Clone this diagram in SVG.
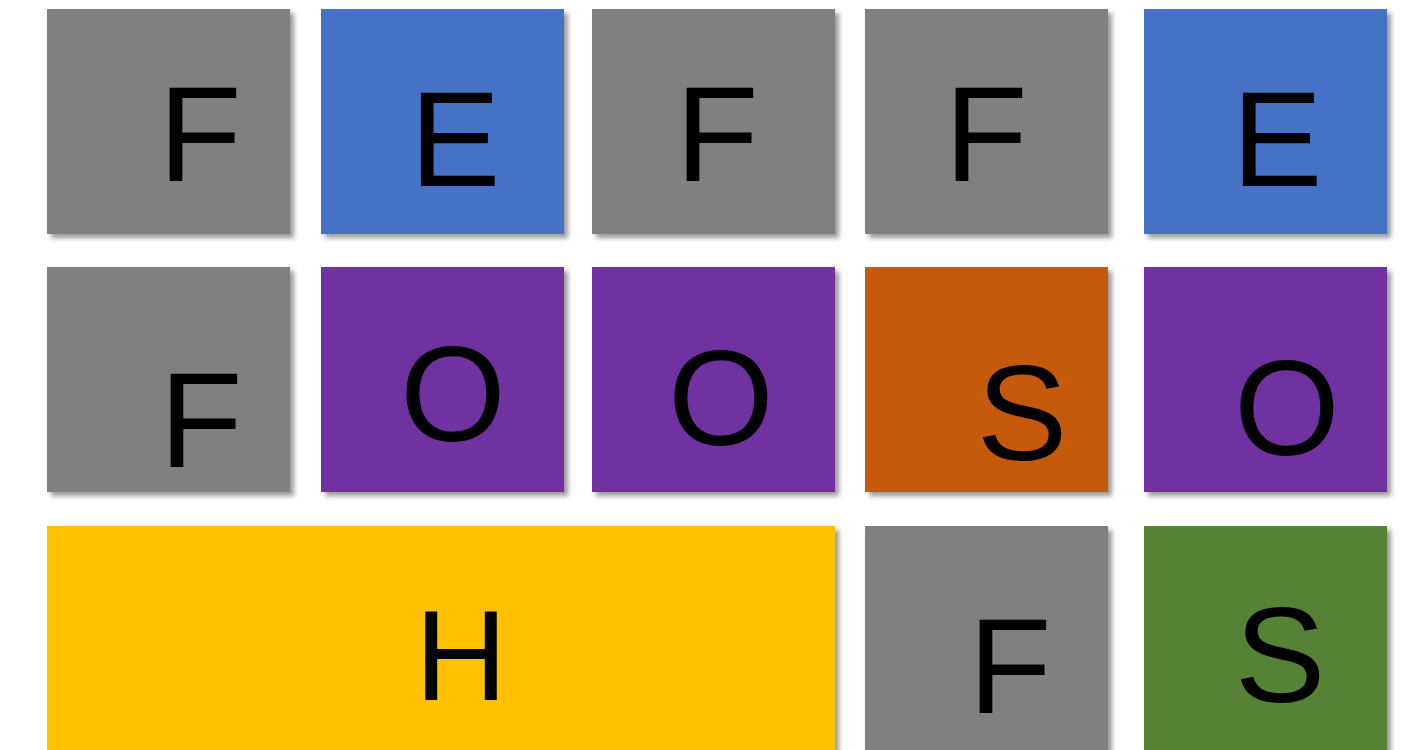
<svg xmlns="http://www.w3.org/2000/svg" width="1409" height="750" viewBox="0 0 1409 750">
<defs>
<filter id="sh" x="-10%" y="-10%" width="130%" height="130%">
<feDropShadow dx="4" dy="4" stdDeviation="2.5" flood-color="#000" flood-opacity="0.4"/>
</filter>
</defs>
<style>
rect{filter:url(#sh)}
.g{fill:#808080}.b{fill:#4472C4}.p{fill:#7030A0}.o{fill:#C55A11}.y{fill:#FFC000}.gr{fill:#548235}
text{font-family:"Liberation Sans",Arial,sans-serif;font-size:136px;fill:#000;text-anchor:middle}
</style>
<rect width="1409" height="750" fill="#fff" style="filter:none"/>
<g id="n1"><rect class="g" x="47" y="9" width="243" height="225"/><text x="200" y="181">F</text></g>
<g id="n2"><rect class="b" x="321" y="9" width="243" height="225"/><text x="455" y="186">E</text></g>
<g id="n3"><rect class="g" x="592" y="9" width="243" height="225"/><text x="717" y="181">F</text></g>
<g id="n4"><rect class="g" x="865" y="9" width="243" height="225"/><text x="986" y="181">F</text></g>
<g id="n5"><rect class="b" x="1144" y="9" width="243" height="225"/><text x="1277" y="186">E</text></g>
<g id="n6"><rect class="g" x="47" y="267" width="243" height="225"/><text x="201" y="467">F</text></g>
<g id="n7"><rect class="p" x="321" y="267" width="243" height="225"/><text x="453" y="441">O</text></g>
<g id="n8"><rect class="p" x="592" y="267" width="243" height="225"/><text x="721" y="445">O</text></g>
<g id="n9"><rect class="o" x="865" y="267" width="243" height="225"/><text x="1022" y="460">S</text></g>
<g id="n10"><rect class="p" x="1144" y="267" width="243" height="225"/><text x="1287" y="455">O</text></g>
<g id="n11"><rect class="y" x="47" y="526" width="788" height="240"/><text x="461" y="700" style="font-size:128px">H</text></g>
<g id="n12"><rect class="g" x="865" y="526" width="243" height="240"/><text x="1010" y="713">F</text></g>
<g id="n13"><rect class="gr" x="1144" y="526" width="243" height="240"/><text x="1280" y="702">S</text></g>
<g id="connectors"></g>
</svg>
